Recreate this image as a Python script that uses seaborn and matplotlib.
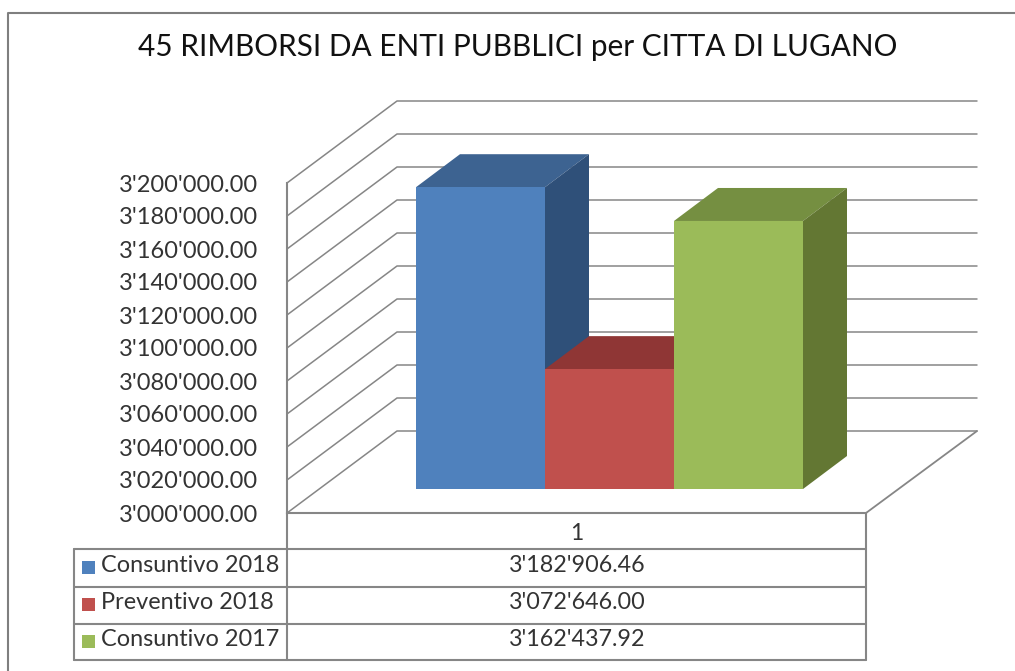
import pandas as pd
import seaborn as sns
import matplotlib
matplotlib.use("Agg")
import matplotlib.pyplot as plt
from matplotlib.patches import Polygon, Rectangle
from matplotlib.ticker import FuncFormatter

# dati
voci = ["Consuntivo 2018", "Preventivo 2018", "Consuntivo 2017"]
valori = [3182906.46, 3072646.00, 3162437.92]
categoria = "1"
tick_y = [3000000, 3020000, 3040000, 3060000, 3080000, 3100000,
          3120000, 3140000, 3160000, 3180000, 3200000]
titolo = "45 RIMBORSI DA ENTI PUBBLICI per CITTA DI LUGANO"

colori = ["#4F81BD", "#C0504D", "#9BBB59"]
colori_top = ["#3D6391", "#8F3635", "#758F41"]
colori_lato = ["#2F5079", "#7A2E2C", "#637733"]

GRIGIO = "#868686"
TESTO = "#333333"
W, H = 1015, 671
FONT = "Lato"


def box(x0, y0, x1, y1):
    # rettangolo in pixel dell'immagine -> coordinate figura
    return [x0 / W, 1 - y1 / H, (x1 - x0) / W, (y1 - y0) / H]


def fmt(v):
    return f"{v:,.2f}".replace(",", "'")


sns.set_theme(style="white")
plt.rcParams["font.family"] = [FONT, "DejaVu Sans"]

df = pd.DataFrame({"categoria": [categoria] * len(voci), "voce": voci, "valore": valori})

fig = plt.figure(figsize=(W / 100, H / 100), dpi=100, facecolor="white")

# fondo: cornice, pareti e tabella in pixel
bg = fig.add_axes([0, 0, 1, 1], zorder=0)
bg.set_xlim(0, W)
bg.set_ylim(H, 0)
bg.axis("off")

bg.plot([8, 8, W], [H, 13, 13], color="#7F7F7F", lw=1.5)

# asse anteriore con le etichette vere
front = fig.add_axes(box(287, 183, 866, 513), zorder=1)
front.patch.set_alpha(0)
front.set_xlim(0, 1)
front.set_ylim(tick_y[0], tick_y[-1])
front.set_yticks(tick_y)
front.yaxis.set_major_formatter(FuncFormatter(lambda v, _: fmt(v)))
front.set_xticks([0.5])
front.set_xticklabels([categoria])
front.tick_params(axis="y", length=0, pad=21, labelsize=17, labelcolor=TESTO)
front.tick_params(axis="x", length=0, pad=7, labelsize=16.5, labelcolor=TESTO)
for s in ["top", "right"]:
    front.spines[s].set_visible(False)
for s in ["left", "bottom"]:
    front.spines[s].set_color(GRIGIO)
    front.spines[s].set_linewidth(1.5)

# griglia in prospettiva
for v in tick_y:
    y = 513 - (v - tick_y[0]) / (tick_y[-1] - tick_y[0]) * 330
    bg.plot([287, 397, 977], [y, y - 82, y - 82], color=GRIGIO, lw=1.1)
bg.plot([977, 866], [431, 513], color=GRIGIO, lw=1.3)

# tabella
for y in [549, 587, 623.5, 660]:
    bg.plot([74, 866], [y, y], color=GRIGIO, lw=1.5)
bg.plot([74, 74], [549, 660], color=GRIGIO, lw=1.5)
bg.plot([287, 287], [513, 660], color=GRIGIO, lw=1.5)
bg.plot([866, 866], [513, 660], color=GRIGIO, lw=1.5)

righe_y = [567, 604, 641]
for voce, val, col, y in zip(voci, valori, colori, righe_y):
    bg.add_patch(Rectangle((82, y - 6.5), 13, 13, facecolor=col, edgecolor="none"))
    bg.text(101, y - 1.5, voce, ha="left", va="center", fontsize=16.9, color=TESTO)
    bg.text(577, y - 1.5, fmt(val), ha="center", va="center", fontsize=16.8, color=TESTO)

# barre: piano delle facce frontali, spostato nella profondita
ax = fig.add_axes(box(320, 159, 899, 489), zorder=2)
ax.patch.set_alpha(0)
sns.barplot(data=df, x="categoria", y="valore", hue="voce", hue_order=voci,
            palette=colori, width=387 / 579, gap=0, saturation=1, legend=False, ax=ax)
ax.set_xlim(-0.5, 0.5)
ax.set_ylim(tick_y[0], tick_y[-1])
ax.axis("off")

prof_x = 44 / 579
prof_y = 20000

for i, (bar, val) in enumerate(zip(ax.patches, valori)):
    x0 = bar.get_x()
    x1 = x0 + bar.get_width()
    base = tick_y[0]
    bar.set_edgecolor("none")
    bar.set_zorder(3 + 2 * i)
    top = Polygon([(x0, val), (x1, val), (x1 + prof_x, val + prof_y), (x0 + prof_x, val + prof_y)],
                  closed=True, facecolor=colori_top[i], edgecolor="none",
                  clip_on=False, zorder=2 + 2 * i)
    lato = Polygon([(x1, base), (x1, val), (x1 + prof_x, val + prof_y), (x1 + prof_x, base + prof_y)],
                   closed=True, facecolor=colori_lato[i], edgecolor="none",
                   clip_on=False, zorder=2 + 2 * i)
    ax.add_patch(top)
    ax.add_patch(lato)

fig.text(518 / W, 1 - 47 / H, titolo, ha="center", va="center", fontsize=21.4, color="#111111")

fig.savefig("out.png", dpi=100, facecolor="white")
